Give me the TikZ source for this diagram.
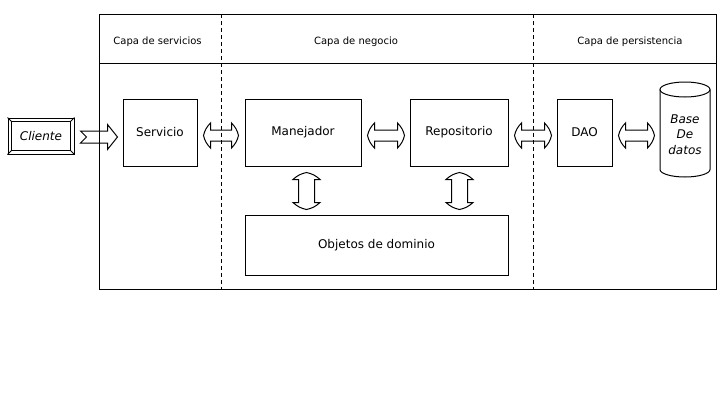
\documentclass[tikz,border=0pt]{standalone}
\usepackage{fontspec}
\setmainfont{DejaVu Sans}
\usetikzlibrary{calc}
\newcommand\hdblarrow[2]{%
  \draw[line join=miter] (#1) to[bend left=15] ($(#1)+(7,-12.5)$) -- ($(#1)+(7,-5.5)$)
    -- ($(#2)+(-7,-5.5)$) -- ($(#2)+(-7,-12.5)$) to[bend left=15] (#2)
    to[bend left=15] ($(#2)+(-7,12.5)$) -- ($(#2)+(-7,5.5)$) -- ($(#1)+(7,5.5)$)
    -- ($(#1)+(7,12.5)$) to[bend left=15] (#1) -- cycle;}
\newcommand\vdblarrow[2]{%
  \draw[line join=miter] (#1) to[bend left=15] ($(#1)+(13.5,7)$) -- ($(#1)+(8,7)$)
    -- ($(#2)+(8,-7)$) -- ($(#2)+(13.5,-7)$) to[bend left=15] (#2)
    to[bend left=15] ($(#2)+(-13.5,-7)$) -- ($(#2)+(-8,-7)$) -- ($(#1)+(-8,7)$)
    -- ($(#1)+(-13.5,7)$) to[bend left=15] (#1) -- cycle;}
\begin{document}
\begin{tikzpicture}[x=1pt,y=-1pt,
  every path/.style={line width=1pt},
  box/.style={draw, line width=1pt, inner sep=0pt, font=\fontsize{12}{14}\selectfont},
  hdr/.style={font=\fontsize{10}{12}\selectfont, inner sep=0pt},
  sep/.style={dashed, dash pattern=on 4pt off 3pt, line width=1pt}]
\useasboundingbox (0,0) rectangle (724,400);
\fill[white] (0,0) rectangle (724,400);
% frame
\coordinate (ftl) at (99,14);
\coordinate (fbr) at (716,289);
\draw (ftl) rectangle (fbr);
\draw (99,63) -- (716,63);
\draw[sep] (221,14) -- (221,289);
\draw[sep] (533,14) -- (533,289);
% headers
\node[hdr] (h1) at (157.5,42) {Capa de servicios};
\node[hdr] (h2) at (356,42) {Capa de negocio};
\node[hdr] (h3) at (630,42) {Capa de persistencia};
% boxes
\node[box, minimum width=74pt, minimum height=67pt] (srv) at (160,132.5) {Servicio};
\node[box, minimum width=116pt, minimum height=67pt] (man) at (303,132.5) {Manejador};
\node[box, minimum width=98pt, minimum height=67pt] (rep) at (459,132.5) {Repositorio};
\node[box, minimum width=55pt, minimum height=67pt] (dao) at (584.5,132.5) {DAO};
\node[box, minimum width=263pt, minimum height=60pt] (obj) at (376.5,245) {Objetos de dominio};
% cliente
\node[box, minimum width=66pt, minimum height=36pt, font=\itshape\fontsize{12}{14}\selectfont] (cli) at (41,136) {Cliente};
\draw ($(cli.north west)+(4,4)$) rectangle ($(cli.south east)+(-4,-4)$);
\draw (cli.north west) -- ($(cli.north west)+(4,4)$);
\draw (cli.north east) -- ($(cli.north east)+(-4,4)$);
\draw (cli.south west) -- ($(cli.south west)+(4,-4)$);
\draw (cli.south east) -- ($(cli.south east)+(-4,-4)$);
% database
\node[inner sep=0pt, minimum width=50pt, minimum height=95pt] (db) at (685,129.5) {};
\draw[fill=white] (660,89.5) -- (660,169.5) arc[start angle=180, end angle=0, x radius=25, y radius=7.5] -- (710,89.5);
\draw (685,89.5) ellipse [x radius=25, y radius=7.5];
\node[font=\itshape\fontsize{12}{15.5}\selectfont, align=center, inner sep=0pt] (dbt) at (db.center) [yshift=-5pt] {Base\\De\\datos};
% client arrow
\coordinate (ta) at ($(cli.east)+(6,1)$);
\coordinate (tb) at ($(srv.west |- ta)+(-5,0)$);
\draw[line join=miter] ($(ta)+(0,-6)$) -- ($(ta)+(6,0)$) -- ($(ta)+(0,6)$)
  -- ($(tb)+(-10,6)$) -- ($(tb)+(-10,12.5)$) -- (tb) -- ($(tb)+(-10,-12.5)$)
  -- ($(tb)+(-10,-6)$) -- cycle;
% horizontal double arrows
\coordinate (a1l) at ($(srv.east)+(6,3)$);
\coordinate (a1r) at ($(man.west)+(-6,3)$);
\hdblarrow{a1l}{a1r}
\coordinate (a2l) at ($(man.east)+(6,3)$);
\coordinate (a2r) at ($(rep.west)+(-5,3)$);
\hdblarrow{a2l}{a2r}
\coordinate (a3l) at ($(rep.east)+(6,3)$);
\coordinate (a3r) at ($(dao.west)+(-5,3)$);
\hdblarrow{a3l}{a3r}
\coordinate (a4l) at ($(dao.east)+(6,3)$);
\coordinate (a4r) at ($(dao.east -| db.west)+(-5,3)$);
\hdblarrow{a4l}{a4r}
% vertical double arrows
\coordinate (v1t) at ($(man.south)+(3.5,6)$);
\coordinate (v1b) at ($(man.south |- obj.north)+(3.5,-5)$);
\vdblarrow{v1t}{v1b}
\coordinate (v2t) at ($(rep.south)+(0.5,6)$);
\coordinate (v2b) at ($(rep.south |- obj.north)+(0.5,-5)$);
\vdblarrow{v2t}{v2b}
\end{tikzpicture}
\end{document}
